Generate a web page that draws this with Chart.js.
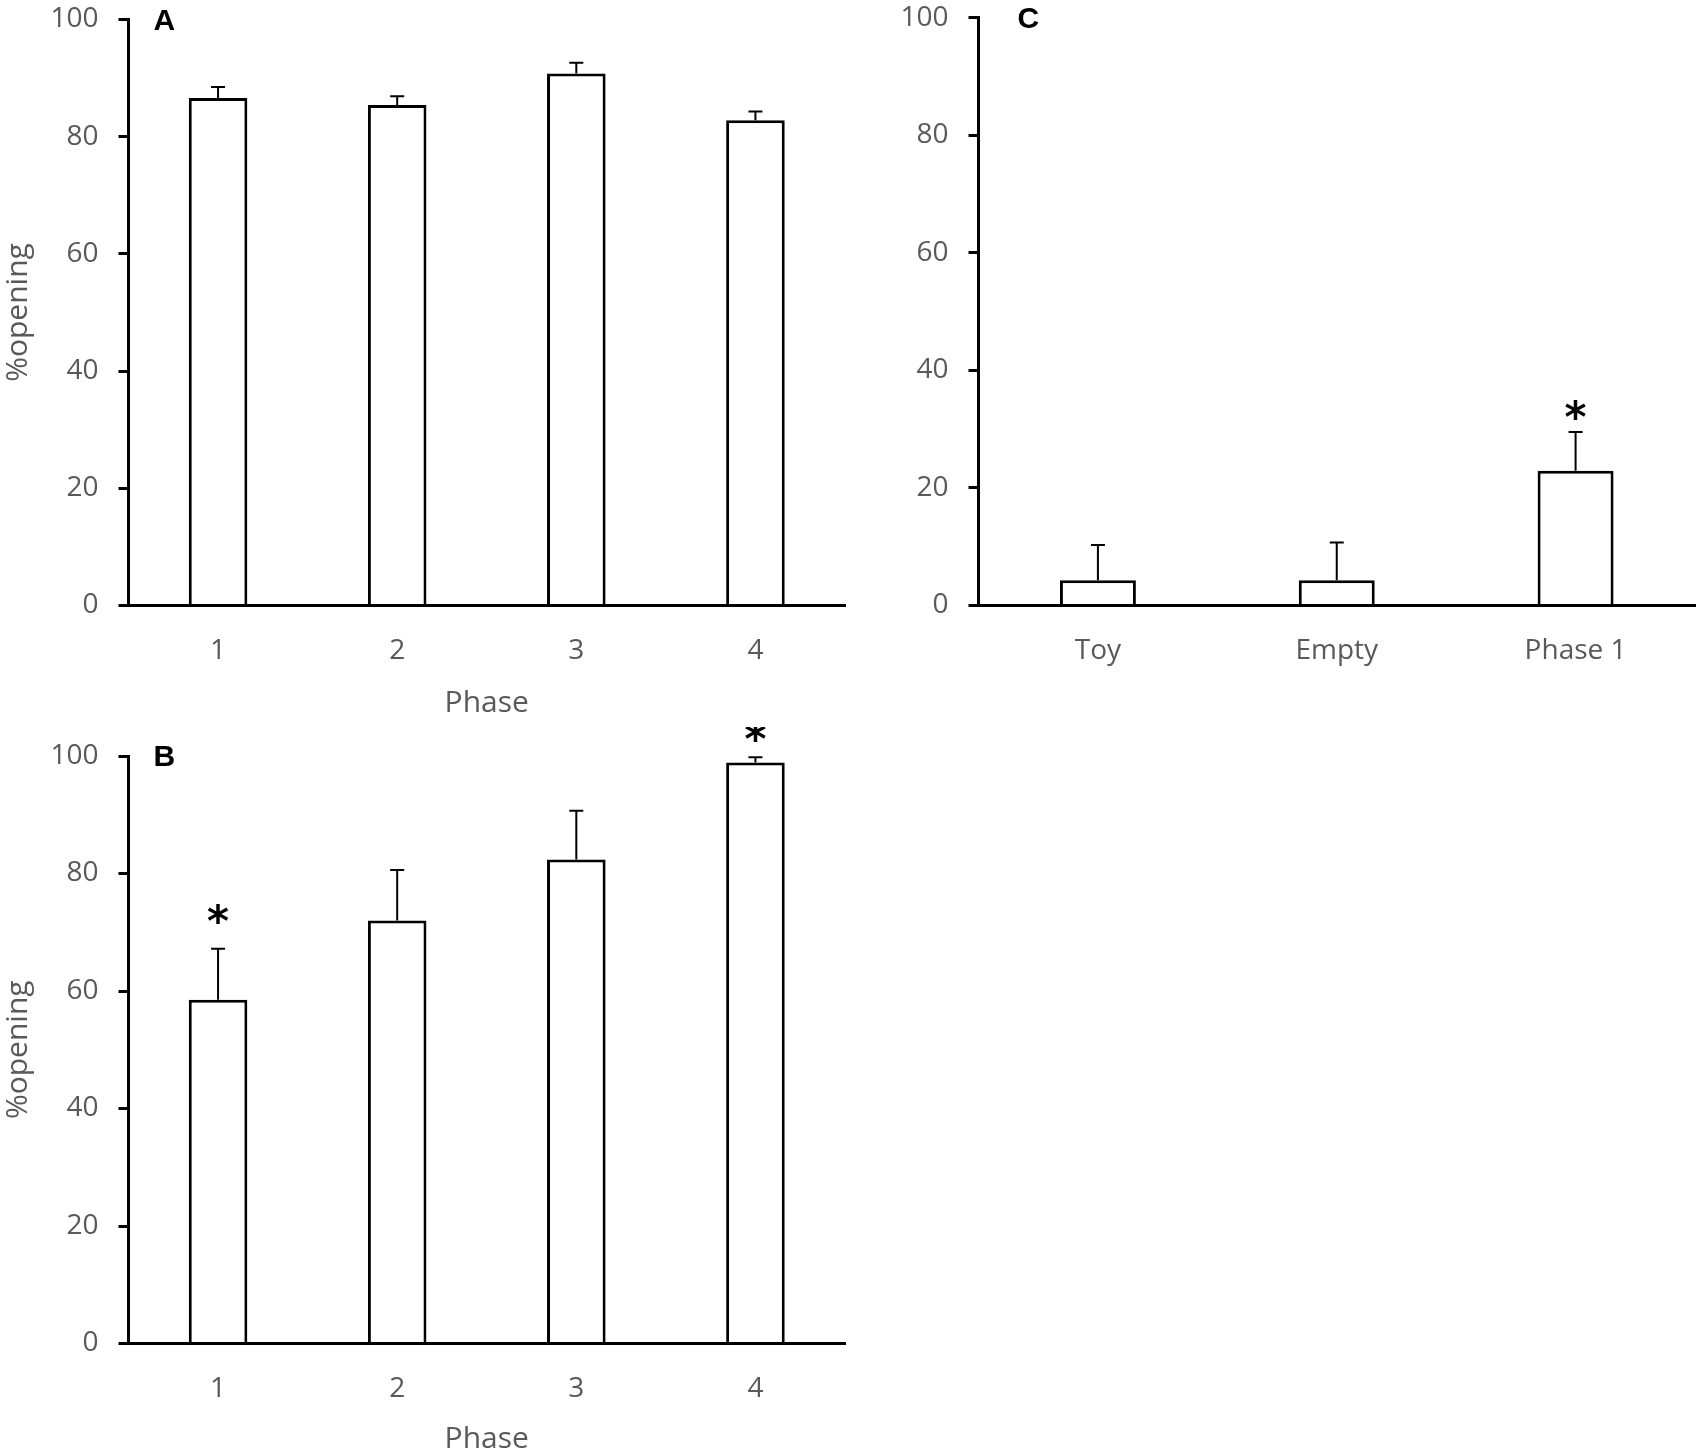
<!DOCTYPE html>
<html>
<head>
<meta charset="utf-8">
<script src="https://cdn.jsdelivr.net/npm/chart.js@4.4.1/dist/chart.umd.min.js"></script>
<style>
  body { margin: 0; background: #fff; width: 1700px; height: 1454px; overflow: hidden; }
  .panel { position: absolute; width: 850px; height: 727px; }
</style>
</head>
<body>
<div class="panel" style="left:0;top:0"><canvas id="chart-a" width="850" height="727"></canvas></div>
<div class="panel" style="left:850px;top:0"><canvas id="chart-c" width="850" height="727"></canvas></div>
<div class="panel" style="left:0;top:727px"><canvas id="chart-b" width="850" height="727"></canvas></div>
<script>
// data
const phases = ['1', '2', '3', '4'];
const openingA = [86.6, 85.4, 90.8, 82.8];
const semA = [1.9, 1.5, 1.8, 1.5];
const openingB = [58.5, 72.0, 82.4, 98.9];
const semB = [8.7, 8.6, 8.3, 0.9];
const starsB = [73.2, null, null, 104.2];
const conditionsC = ['Toy', 'Empty', 'Phase 1'];
const openingC = [4.3, 4.3, 22.9];
const semC = [6.0, 6.4, 6.6];
const starsC = [null, null, 33.4];
const yTicks = [0, 20, 40, 60, 80, 100];

const grey = '#595959';

// error bars, asterisks and panel letters
const extras = {
  id: 'extras',
  afterDatasetsDraw(chart, args, opts) {
    const { ctx, chartArea } = chart;
    const y = chart.scales.y;
    const meta = chart.getDatasetMeta(0);
    const values = chart.data.datasets[0].data;

    ctx.save();
    ctx.strokeStyle = '#000';
    ctx.lineWidth = 2;
    meta.data.forEach((bar, i) => {
      const top = y.getPixelForValue(values[i]);
      const end = y.getPixelForValue(values[i] + opts.sem[i]);
      ctx.beginPath();
      ctx.moveTo(bar.x, top);
      ctx.lineTo(bar.x, end);
      ctx.moveTo(bar.x - 7, end);
      ctx.lineTo(bar.x + 7, end);
      ctx.stroke();
    });

    ctx.fillStyle = '#000';
    ctx.font = 'bold 42px "DejaVu Sans"';
    ctx.textAlign = 'center';
    ctx.textBaseline = 'alphabetic';
    opts.stars.forEach((s, i) => {
      if (s == null) return;
      ctx.fillText('*', meta.data[i].x, y.getPixelForValue(s) + 23);
    });

    ctx.font = 'bold 30px "Liberation Sans"';
    ctx.textAlign = 'left';
    ctx.fillText(opts.letter, chartArea.left + opts.letterDx, chartArea.top + 10);
    ctx.restore();
  }
};

function makeChart(id, labels, values, sem, stars, cfg) {
  return new Chart(document.getElementById(id), {
    type: 'bar',
    data: {
      labels: labels,
      datasets: [{
        data: values,
        backgroundColor: '#fff',
        borderColor: '#000',
        borderWidth: 3,
        categoryPercentage: 1,
        barPercentage: cfg.barPct
      }]
    },
    plugins: [extras],
    options: {
      responsive: false,
      animation: false,
      devicePixelRatio: 1,
      layout: { padding: { top: cfg.top, right: 5, left: 0, bottom: 0 } },
      plugins: {
        legend: { display: false },
        tooltip: { enabled: false },
        extras: { sem: sem, stars: stars, letter: cfg.letter, letterDx: cfg.letterDx }
      },
      scales: {
        x: {
          grid: { display: false, drawTicks: false },
          border: { display: true, color: '#000', width: 3 },
          ticks: { color: grey, font: { family: 'Open Sans', size: 28 }, padding: 29 },
          title: {
            display: cfg.xTitle,
            text: 'Phase',
            color: grey,
            font: { family: 'Open Sans', size: 30 },
            padding: { top: 0, bottom: cfg.titlePad }
          },
          afterFit(scale) {
            scale.height = cfg.xHeight;
            scale.paddingLeft = 0;
            scale.paddingRight = 0;
          }
        },
        y: {
          min: 0,
          max: 100,
          afterBuildTicks(scale) { scale.ticks = yTicks.map(v => ({ value: v })); },
          grid: { drawOnChartArea: false, drawTicks: true, tickLength: 10, color: '#000', lineWidth: 3 },
          border: { display: true, color: '#000', width: 3 },
          ticks: { color: grey, font: { family: 'Open Sans', size: 28 }, padding: 20 },
          title: {
            display: cfg.yTitle,
            text: '%opening',
            color: grey,
            font: { family: 'Open Sans', size: 30 },
            padding: { top: 0, bottom: 0 }
          },
          afterFit(scale) {
            scale.width = 128.5;
            scale.paddingTop = 0;
            scale.paddingBottom = 0;
          }
        }
      }
    }
  });
}

makeChart('chart-a', phases, openingA, semA, [null, null, null, null],
  { letter: 'A', letterDx: 25, top: 19.5, xHeight: 121.5, barPct: 0.327, xTitle: true, yTitle: true, titlePad: 5.5 });
makeChart('chart-b', phases, openingB, semB, starsB,
  { letter: 'B', letterDx: 25, top: 29, xHeight: 110.5, barPct: 0.327, xTitle: true, yTitle: true, titlePad: -3 });
makeChart('chart-c', conditionsC, openingC, semC, starsC,
  { letter: 'C', letterDx: 39, top: 17.6, xHeight: 121.5, barPct: 0.318, xTitle: false, yTitle: false, titlePad: 0 });
</script>
</body>
</html>
